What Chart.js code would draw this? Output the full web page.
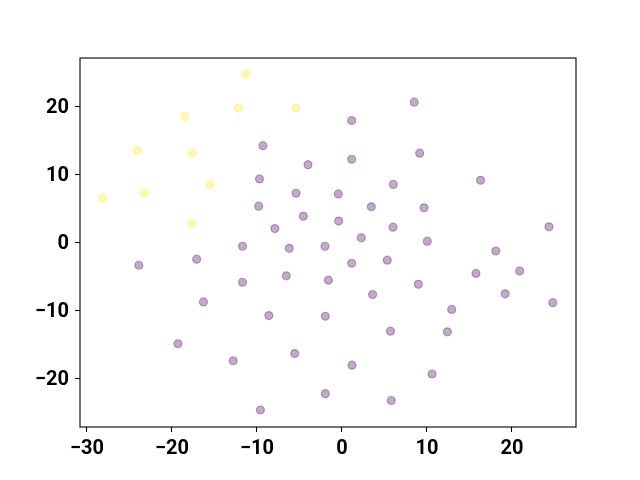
<!DOCTYPE html>
<html>
<head>
<meta charset="utf-8">
<script src="https://cdn.jsdelivr.net/npm/chart.js@4.4.1/dist/chart.umd.min.js"></script>
<style>
  html, body { margin: 0; padding: 0; background: #fff; }
  #wrap { width: 640px; height: 480px; }
</style>
</head>
<body>
<div id="wrap"><canvas id="scatterChart" width="640" height="480"></canvas></div>
<script>
// cluster 0 (purple) and cluster 1 (yellow)
const purpleX = [-9.3, -4.0, -9.7, -5.4, -9.8, -4.55, -7.9, -11.7, -6.2, -2.0,
    8.5, 1.14, 1.14, 9.14, 6.04, 16.3, -0.43, 3.45, 9.65, -0.39,
    6.0, 24.35, 2.27, 10.04, 18.1, -23.9, -17.1, -11.7, -6.55, -1.6,
    -16.3, -8.6, -1.96, -19.3, -5.56, -12.8, -1.96, -9.6, 1.14, 5.33,
    15.76, 20.9, 8.98, 3.6, 19.2, 24.8, 12.9, 5.7, 12.4, 1.18,
    10.6, 5.8];
const purpleY = [14.2, 11.4, 9.3, 7.2, 5.3, 3.8, 2.0, -0.6, -0.9, -0.6,
    20.6, 17.9, 12.2, 13.1, 8.5, 9.1, 7.1, 5.2, 5.05, 3.1,
    2.2, 2.25, 0.64, 0.15, -1.3, -3.4, -2.5, -5.9, -4.95, -5.6,
    -8.8, -10.8, -10.9, -14.95, -16.4, -17.45, -22.3, -24.7, -3.1, -2.65,
    -4.6, -4.26, -6.2, -7.7, -7.6, -8.9, -9.9, -13.1, -13.2, -18.1,
    -19.4, -23.3];
const yellowX = [-11.3, -12.2, -5.4, -18.5, -24.1, -17.6, -15.5, -23.3, -28.2, -17.6];
const yellowY = [24.7, 19.7, 19.7, 18.5, 13.5, 13.1, 8.5, 7.2, 6.5, 2.8];

const xTicks = [-30, -20, -10, 0, 10, 20];
const yTicks = [-20, -10, 0, 10, 20];
const xRange = [-30.82, 27.53];
const yRange = [-27.2, 27.1];

function toPoints(xs, ys) {
    return xs.map((x, i) => ({ x: x, y: ys[i] }));
}

function tickLabel(v) {
    return v < 0 ? '\u2212' + Math.abs(v) : String(v);
}

// matplotlib style frame round the plot area
const framePlugin = {
    id: 'frame',
    afterDraw(chart) {
        const a = chart.chartArea;
        const ctx = chart.ctx;
        ctx.save();
        ctx.strokeStyle = '#000';
        ctx.lineWidth = 1.1;
        ctx.strokeRect(a.left, a.top, a.right - a.left, a.bottom - a.top);
        ctx.restore();
    }
};

const tickFont = { family: 'Roboto', size: 20, weight: 'bold' };

function axis(range, ticks, pad, offset) {
    return {
        type: 'linear',
        min: range[0],
        max: range[1],
        afterBuildTicks: s => { s.ticks = ticks.map(v => ({ value: v })); },
        grid: {
            drawOnChartArea: false,
            drawTicks: true,
            tickLength: 5,
            tickColor: '#000',
            tickWidth: 1.1
        },
        border: { display: false },
        ticks: {
            color: '#000',
            font: tickFont,
            padding: pad,
            labelOffset: offset,
            autoSkip: false,
            maxRotation: 0,
            callback: tickLabel
        }
    };
}

const xAxis = axis(xRange, xTicks, 5, 0);
xAxis.afterFit = s => { s.height = 53; };
const yAxis = axis(yRange, yTicks, 6, 1.5);
yAxis.afterFit = s => { s.width = 80; };

new Chart(document.getElementById('scatterChart'), {
    type: 'scatter',
    data: {
        datasets: [{
            data: toPoints(purpleX, purpleY),
            backgroundColor: 'rgba(68, 1, 84, 0.33)',
            borderColor: 'rgba(68, 1, 84, 0.33)',
            borderWidth: 1.2,
            pointRadius: 4,
            pointHoverRadius: 4
        }, {
            data: toPoints(yellowX, yellowY),
            backgroundColor: 'rgba(253, 231, 37, 0.33)',
            borderColor: 'rgba(253, 231, 37, 0.33)',
            borderWidth: 1.2,
            pointRadius: 4,
            pointHoverRadius: 4
        }]
    },
    options: {
        responsive: false,
        animation: false,
        layout: { padding: { left: 0, right: 64, top: 58, bottom: 0 } },
        plugins: { legend: { display: false }, tooltip: { enabled: false } },
        scales: { x: xAxis, y: yAxis }
    },
    plugins: [framePlugin]
});
</script>
</body>
</html>
